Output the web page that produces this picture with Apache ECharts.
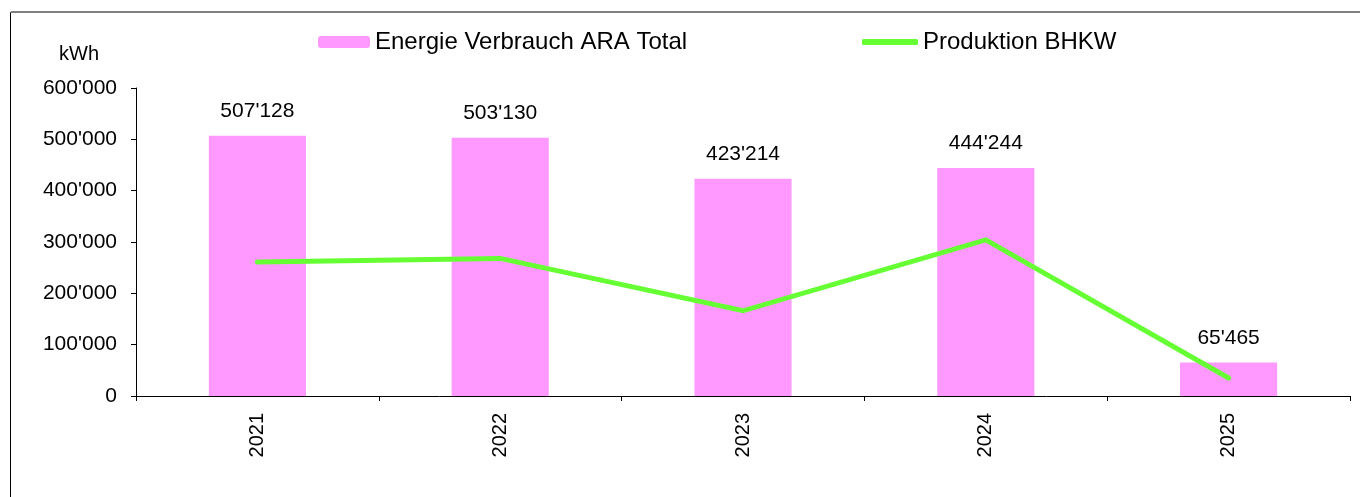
<!DOCTYPE html>
<html>
<head>
<meta charset="utf-8">
<script src="https://cdn.jsdelivr.net/npm/echarts@6/dist/echarts.min.js"></script>
<style>
html,body{margin:0;padding:0;background:#fff;}
#chart{width:1360px;height:497px;}
</style>
</head>
<body>
<div id="chart"></div>
<script>
const categories = ['2021', '2022', '2023', '2024', '2025'];
const verbrauch = [507128, 503130, 423214, 444244, 65465];
const produktion = [261000, 268000, 166000, 304000, 35000];
const yTicks = [0, 100000, 200000, 300000, 400000, 500000, 600000];

function fmt(v) {
  return String(Math.round(v)).replace(/\B(?=(\d{3})+(?!\d))/g, "'");
}

const FONT = 'Liberation Sans, Arial, sans-serif';
const chart = echarts.init(document.getElementById('chart'), null, {renderer: 'canvas'});
chart.setOption({
  animation: false,
  backgroundColor: '#ffffff',
  textStyle: {fontFamily: FONT, color: '#000'},
  grid: {left: 136, right: 10, top: 88, bottom: 101, containLabel: false},
  legend: [
    {
      data: [{name: 'Energie Verbrauch ARA Total'}],
      left: 318, top: 30, padding: 0,
      itemWidth: 52, itemHeight: 12,
      textStyle: {fontFamily: FONT, fontSize: 24, color: '#000'},
      selectedMode: false
    },
    {
      data: [{name: 'Produktion BHKW', icon: 'roundRect'}],
      left: 862, top: 30, padding: 0,
      itemWidth: 56, itemHeight: 6,
      itemStyle: {borderWidth: 0},
      textStyle: {fontFamily: FONT, fontSize: 24, color: '#000'},
      selectedMode: false
    }
  ],
  xAxis: {
    type: 'category',
    data: categories,
    boundaryGap: true,
    axisLine: {lineStyle: {color: '#000', width: 1}},
    axisTick: {show: true, length: 5, lineStyle: {color: '#000'}},
    axisLabel: {rotate: 90, fontSize: 20, color: '#000', margin: 17, fontFamily: FONT}
  },
  yAxis: {
    type: 'value',
    min: 0, max: 600000, interval: 100000,
    axisLine: {show: true, lineStyle: {color: '#000', width: 1}},
    axisTick: {show: true, length: 5, lineStyle: {color: '#000'}},
    splitLine: {show: false},
    axisLabel: {fontSize: 21, color: '#000', margin: 19, fontFamily: FONT,
      formatter: v => fmt(v)}
  },
  graphic: [
    {type: 'polyline', shape: {points: [[10.5, 497], [10.5, 12.5], [1360, 12.5]]},
      style: {stroke: '#000', lineWidth: 1, fill: null}, silent: true},
    {type: 'line', shape: {x1: 11, y1: 12, x2: 1360, y2: 12},
      style: {stroke: '#808080', lineWidth: 2}, silent: true},
    {type: 'text', left: 59, top: 44, style: {text: 'kWh', font: '20px ' + FONT, fill: '#000'}}
  ],
  series: [
    {
      name: 'Energie Verbrauch ARA Total',
      type: 'bar',
      data: verbrauch,
      barWidth: '40%',
      itemStyle: {color: '#FF99FF'},
      label: {show: true, position: 'top', distance: 14, fontSize: 21, color: '#000',
        fontFamily: FONT, formatter: p => fmt(p.value)}
    },
    {
      name: 'Produktion BHKW',
      type: 'line',
      data: produktion,
      symbol: 'none',
      showSymbol: false,
      lineStyle: {color: '#66FF33', width: 5, cap: 'round', join: 'miter'},
      itemStyle: {color: '#66FF33'},
      z: 5
    }
  ]
});
</script>
</body>
</html>
